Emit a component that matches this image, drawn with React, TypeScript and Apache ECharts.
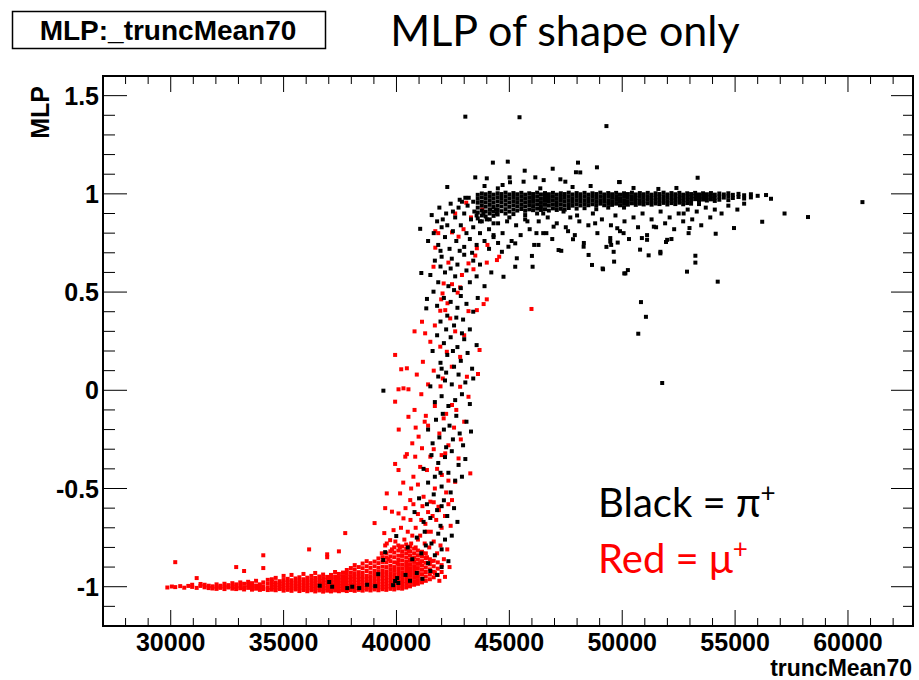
import React, { useEffect, useRef } from "react";
import * as echarts from "echarts";

// ---------- axes ----------
const xRange = [27000, 62880];
const yRange = [-1.2, 1.6];
const xMajorTicks = [30000, 35000, 40000, 45000, 50000, 55000, 60000];
const xMinorTicks = [
  28000, 29000, 31000, 32000, 33000, 34000, 36000, 37000, 38000, 39000, 41000, 42000, 43000, 44000,
  46000, 47000, 48000, 49000, 51000, 52000, 53000, 54000, 56000, 57000, 58000, 59000, 61000, 62000,
];
const yMajorTicks = [-1, -0.5, 0, 0.5, 1, 1.5];
const yMinorTicks = [
  -1.1, -0.9, -0.8, -0.7, -0.6, -0.4, -0.3, -0.2, -0.1, 0.1, 0.2, 0.3, 0.4, 0.6, 0.7, 0.8, 0.9,
  1.1, 1.2, 1.3, 1.4,
];

// ---------- Red = mu+ ----------
// dense low band, given as [truncMean70, [MLP values...]]
const muBandColumns: [number, number[]][] = [
  [29850, [-1.004]], [30050, [-0.999]], [30200, [-1.002, -0.875]], [30420, [-0.997]],
  [30600, [-1.005]], [30780, [-0.996]], [30950, [-1.001, -0.99]], [31150, [-1.006, -0.956]],
  [31320, [-0.996, -0.986]], [31500, [-1.003, -0.99]], [31680, [-1.007, -0.995]],
  [31850, [-0.998, -1.009]], [32030, [-1.002, -0.988, -1.011]], [32200, [-0.995, -1.006]],
  [32380, [-1.0, -0.985, -1.012]], [32550, [-1.004, -0.992]], [32730, [-0.998, -1.01, -0.982]],
  [32900, [-1.002, -0.988, -1.012, -0.9]], [33080, [-0.995, -1.008, -0.978]],
  [33250, [-1.003, -0.985, -1.014, -0.92]], [33430, [-0.99, -1.006, -0.975]],
  [33600, [-1.0, -1.015, -0.982]], [33780, [-0.994, -1.01, -0.97]],
  [33950, [-1.004, -0.988, -1.016]], [34100, [-0.998, -0.978, -1.012, -0.905, -0.84]],
  [34300, [-1.006, -0.985, -0.965, -1.017]],
  [34480, [-1.015, -1.002, -0.989, -0.976, -0.962]],
  [34650, [-1.018, -1.005, -0.992, -0.978, -0.955]],
  [34830, [-1.012, -0.999, -0.986, -0.972]],
  [35000, [-1.02, -1.007, -0.994, -0.98, -0.966, -0.945]],
  [35180, [-1.016, -1.003, -0.99, -0.976, -0.96]],
  [35350, [-1.021, -1.008, -0.995, -0.981, -0.967, -0.94]],
  [35530, [-1.014, -1.001, -0.988, -0.974, -0.958]],
  [35700, [-1.022, -1.009, -0.996, -0.982, -0.968, -0.952]],
  [35880, [-1.017, -1.004, -0.991, -0.977, -0.962, -0.935]],
  [36050, [-1.023, -1.01, -0.997, -0.983, -0.969, -0.954]],
  [36130, [-0.81]],
  [36230, [-1.018, -1.005, -0.992, -0.978, -0.963, -0.945]],
  [36400, [-1.024, -1.011, -0.998, -0.984, -0.97, -0.955, -0.93]],
  [36580, [-1.019, -1.006, -0.993, -0.979, -0.964, -0.948]],
  [36750, [-1.025, -1.012, -0.999, -0.985, -0.971, -0.956, -0.938]],
  [36930, [-1.02, -1.007, -0.994, -0.98, -0.965, -0.95, -0.835, -0.85]],
  [37100, [-1.024, -1.011, -0.998, -0.984, -0.97, -0.955, -0.94]],
  [37280, [-1.019, -1.006, -0.993, -0.979, -0.964, -0.948, -0.925]],
  [37450, [-1.023, -1.01, -0.997, -0.983, -0.968, -0.952, -0.935, -0.82]],
  [37630, [-1.018, -1.005, -0.992, -0.978, -0.963, -0.946, -0.928]],
  [37730, [-0.727]],
  [37800, [-1.022, -1.009, -0.996, -0.982, -0.967, -0.951, -0.934, -0.915]],
  [37980, [-1.017, -1.004, -0.991, -0.977, -0.962, -0.946, -0.928, -0.905]],
  [38150, [-1.021, -1.008, -0.995, -0.981, -0.966, -0.95, -0.932, -0.912, -0.89]],
  [38330, [-1.016, -1.003, -0.99, -0.976, -0.961, -0.945, -0.926, -0.9]],
  [38500, [-1.02, -1.007, -0.994, -0.98, -0.965, -0.949, -0.93, -0.906, -0.882]],
  [38680, [-1.015, -1.002, -0.989, -0.975, -0.96, -0.944, -0.92, -0.896, -0.87]],
  [38850, [-1.019, -1.006, -0.993, -0.979, -0.964, -0.947, -0.928, -0.904, -0.88]],
  [39030, [-1.014, -1.001, -0.988, -0.973, -0.957, -0.94, -0.92, -0.896, -0.872, -0.676]],
  [39200, [-1.018, -1.005, -0.991, -0.976, -0.96, -0.943, -0.925, -0.904, -0.88, -0.856]],
  [39380, [-1.013, -1.0, -0.986, -0.971, -0.955, -0.938, -0.92, -0.898, -0.874, -0.85]],
  [39460, [-0.727]],
  [39550, [-1.016, -1.002, -0.988, -0.973, -0.957, -0.94, -0.922, -0.9, -0.876, -0.852, -0.83]],
  [39730, [-1.011, -0.997, -0.982, -0.966, -0.95, -0.932, -0.914, -0.894, -0.87, -0.846, -0.82]],
  [39900, [-1.014, -1.0, -0.985, -0.97, -0.954, -0.936, -0.918, -0.9, -0.876, -0.85, -0.826, -0.8]],
  [40080, [-1.008, -0.992, -0.976, -0.96, -0.943, -0.925, -0.906, -0.886, -0.864, -0.842, -0.816, -0.79]],
  [40250, [-1.01, -0.994, -0.978, -0.962, -0.945, -0.927, -0.908, -0.888, -0.866, -0.843, -0.82, -0.795]],
  [40430, [-1.004, -0.986, -0.97, -0.952, -0.934, -0.915, -0.895, -0.874, -0.852, -0.83, -0.808, -0.785]],
  [40600, [-0.998, -0.98, -0.962, -0.944, -0.925, -0.905, -0.885, -0.864, -0.842, -0.82, -0.796]],
  [40780, [-0.99, -0.972, -0.954, -0.935, -0.915, -0.895, -0.874, -0.852, -0.83, -0.806]],
  [40950, [-0.985, -0.966, -0.946, -0.926, -0.905, -0.884, -0.862, -0.84, -0.816]],
  [41130, [-0.978, -0.958, -0.936, -0.914, -0.892, -0.87, -0.846, -0.822]],
  [41300, [-0.97, -0.948, -0.925, -0.902, -0.878, -0.854, -0.83]],
  [41480, [-0.962, -0.938, -0.912, -0.886, -0.86]],
  [41650, [-0.952, -0.924, -0.896, -0.868]],
  [41830, [-0.94, -0.908, -0.876]],
  [42000, [-0.925, -0.89]],
];

// rising part of the red cloud
const muRise: [number, number][] = [
  [39350, -0.83], [39500, -0.79], [39650, -0.86], [39800, -0.81], [39950, -0.77], [40050, -0.88],
  [40150, -0.8], [40250, -0.84], [40350, -0.76], [40450, -0.89], [40550, -0.82], [40650, -0.78],
  [40750, -0.86], [40850, -0.8], [40950, -0.76], [41050, -0.88], [41150, -0.83], [41250, -0.78],
  [41350, -0.85], [41450, -0.8], [41550, -0.87], [41650, -0.77], [41800, -0.83], [41950, -0.79],
  [42100, -0.86], [42250, -0.81], [41700, -0.93], [42150, -0.95], [41900, -0.97], [42350, -0.9],
  [39500, -0.6], [39570, -0.78], [39720, -0.763], [39870, -0.712], [39800, -0.618], [40090, -0.627],
  [40310, -0.652], [40200, -0.7], [40400, -0.6], [40500, -0.72], [40620, -0.66], [40750, -0.58],
  [40850, -0.7], [40950, -0.63], [41050, -0.74], [41150, -0.59], [41280, -0.68], [41400, -0.62],
  [41520, -0.72], [41650, -0.57], [41760, -0.66], [41880, -0.61], [42000, -0.7], [42150, -0.64],
  [42300, -0.58], [42400, -0.69], [41350, -0.72], [41600, -0.64], [41100, -0.66], [40700, -0.74],
  [39570, -0.525], [39940, -0.375], [40160, -0.525], [40090, -0.406], [40390, -0.338], [40460, -0.325],
  [40610, -0.559], [40750, -0.44], [40830, -0.338], [41200, -0.542], [41350, -0.406], [41500, -0.567],
  [41500, -0.338], [41860, -0.593], [42010, -0.431], [42160, -0.321], [42460, -0.559], [42600, -0.466],
  [42750, -0.347], [43270, -0.423], [40950, -0.48], [41700, -0.5], [42300, -0.46], [40300, -0.47],
  [41050, -0.39], [41800, -0.4], [42200, -0.52], [40650, -0.5],
  [40530, -0.135], [40980, -0.236], [41130, -0.295], [42090, -0.143], [40100, -0.2], [40700, -0.27],
  [41400, -0.18], [41650, -0.3], [41900, -0.22], [42300, -0.28], [42550, -0.19], [42850, -0.25],
  [41250, -0.16], [40850, -0.19], [42000, -0.33], [43000, -0.16],
  [39940, -0.058], [40090, 0.005], [40310, 0.01], [40530, 0.005], [42460, -0.075], [42820, 0.018],
  [43190, -0.033], [40800, -0.1], [41100, -0.02], [41400, 0.03], [41700, -0.08], [41950, 0.02],
  [42200, -0.12], [41300, -0.13], [42650, -0.1],
  [39940, 0.18], [40460, 0.112], [40210, 0.107], [41170, 0.145], [41500, 0.247], [41940, 0.222],
  [42230, 0.196], [42820, 0.17], [43680, 0.205], [43610, 0.083], [43120, 0.069], [40900, 0.08],
  [41650, 0.1], [42450, 0.12], [42050, 0.06],
  [41130, 0.349], [41270, 0.29], [42710, 0.497], [41940, 0.405], [42160, 0.408], [42380, 0.366],
  [43190, 0.403], [43560, 0.408], [43860, 0.439], [44000, 0.463], [41980, 0.463], [42260, 0.443],
  [40800, 0.3], [41700, 0.33], [42600, 0.3], [43000, 0.28],
  [41640, 0.629], [42090, 0.544], [42040, 0.493], [42820, 0.524], [42460, 0.54], [42900, 0.587],
  [43410, 0.616], [43190, 0.646], [44000, 0.65], [44550, 0.68], [43490, 0.686], [42300, 0.65],
  [41720, 0.81], [41850, 0.8], [42460, 0.804], [41720, 0.726], [43090, 0.955], [42970, 0.82],
  [42750, 0.782], [44030, 0.74], [43560, 0.723], [44450, 0.663], [42600, 0.9], [43300, 0.88],
  [43800, 0.92], [45980, 0.414],
];

// ---------- Black = pi+ ----------
const piBandColumns: [number, number[]][] = [
  [43600, [0.995, 0.975, 0.955, 0.93, 0.905, 0.875]],
  [43780, [1.002, 0.982, 0.96, 0.94, 0.915, 0.89, 0.86]],
  [43950, [0.998, 0.978, 0.957, 0.935, 0.91, 0.885]],
  [44130, [1.005, 0.985, 0.965, 0.944, 0.92, 0.9, 0.87]],
  [44300, [0.996, 0.976, 0.955, 0.933, 0.91, 0.888]],
  [44480, [1.003, 0.983, 0.962, 0.94, 0.918, 0.895]],
  [44650, [0.999, 0.979, 0.958, 0.936, 0.912]],
  [44830, [1.006, 0.986, 0.966, 0.945, 0.922, 0.9]],
  [45000, [0.997, 0.977, 0.956, 0.934, 0.91]],
  [45180, [1.004, 0.984, 0.963, 0.942, 0.92, 0.897]],
  [45350, [0.998, 0.978, 0.958, 0.937, 0.915]],
  [45530, [1.005, 0.985, 0.965, 0.944, 0.923]],
  [45700, [0.996, 0.977, 0.957, 0.936, 0.914, 0.892]],
  [45880, [1.003, 0.983, 0.963, 0.943, 0.921]],
  [46050, [0.999, 0.979, 0.959, 0.938, 0.917]],
  [46230, [1.006, 0.986, 0.966, 0.946, 0.925, 0.9]],
  [46400, [0.997, 0.977, 0.958, 0.938, 0.918]],
  [46580, [1.004, 0.984, 0.964, 0.944, 0.922]],
  [46750, [0.998, 0.979, 0.96, 0.94, 0.915]],
  [46930, [1.005, 0.985, 0.966, 0.946, 0.926]],
  [47100, [0.996, 0.977, 0.958, 0.939, 0.918]],
  [47280, [1.003, 0.984, 0.965, 0.945, 0.924]],
  [47450, [0.999, 0.98, 0.961, 0.941, 0.92]],
  [47630, [1.006, 0.987, 0.968, 0.948, 0.928]],
  [47800, [0.997, 0.978, 0.959, 0.94]],
  [47980, [1.004, 0.985, 0.966, 0.947, 0.925]],
  [48150, [0.998, 0.979, 0.96, 0.941]],
  [48330, [1.005, 0.986, 0.967, 0.948, 0.927]],
  [48500, [0.996, 0.978, 0.96, 0.942]],
  [48680, [1.003, 0.985, 0.966, 0.947]],
  [48850, [0.999, 0.98, 0.962, 0.943, 0.922]],
  [49030, [1.006, 0.987, 0.968, 0.95]],
  [49200, [0.997, 0.979, 0.961, 0.942]],
  [49380, [1.004, 0.986, 0.967, 0.949, 0.93]],
  [49550, [0.998, 0.98, 0.962, 0.944]],
  [49730, [1.005, 0.987, 0.969, 0.95]],
  [49900, [0.996, 0.978, 0.96, 0.942]],
  [50080, [1.003, 0.985, 0.967, 0.949, 0.93]],
  [50250, [0.999, 0.981, 0.963, 0.945]],
  [50430, [1.006, 0.988, 0.97, 0.952]],
  [50600, [0.997, 0.979, 0.962, 0.944]],
  [50780, [1.004, 0.986, 0.968, 0.95]],
  [50950, [0.998, 0.98, 0.963, 0.946]],
  [51130, [1.005, 0.987, 0.97, 0.952]],
  [51300, [0.996, 0.979, 0.962, 0.945]],
  [51480, [1.003, 0.986, 0.969, 0.951]],
  [51650, [0.999, 0.982, 0.965, 0.948]],
  [51830, [1.006, 0.988, 0.971, 0.954]],
  [52000, [0.997, 0.98, 0.963, 0.946]],
  [52180, [1.004, 0.987, 0.97, 0.953]],
  [52350, [0.998, 0.981, 0.965, 0.948]],
  [52530, [1.005, 0.988, 0.972, 0.955]],
  [52700, [0.996, 0.98, 0.964, 0.947]],
  [52880, [1.003, 0.987, 0.97, 0.953]],
  [53050, [0.999, 0.983, 0.967, 0.95]],
  [53230, [1.005, 0.989, 0.973]],
  [53400, [0.997, 0.981, 0.965, 0.948]],
  [53580, [1.003, 0.987, 0.971]],
  [53750, [0.998, 0.982, 0.966]],
  [53930, [1.004, 0.988, 0.972]],
  [54100, [0.996, 0.98, 0.964]],
  [54300, [1.002, 0.986, 0.97]],
  [54500, [0.997, 0.981]],
  [54700, [1.003, 0.987, 0.968]],
  [54900, [0.995, 0.979]],
  [55150, [1.0, 0.984]],
  [55400, [0.993, 0.976]],
  [55700, [0.998, 0.982]],
  [56000, [0.99]],
];

const piScatter: [number, number][] = [
  // below the plateau
  [44100, 0.82], [44300, 0.78], [44500, 0.85], [44700, 0.8], [44900, 0.86], [45100, 0.76], [45300, 0.84],
  [45500, 0.79], [45700, 0.87], [45900, 0.82], [46100, 0.74], [46300, 0.86], [46500, 0.8], [46700, 0.88],
  [46900, 0.77], [47100, 0.85], [47300, 0.71], [47500, 0.83], [47700, 0.88], [47900, 0.79], [48100, 0.86],
  [48300, 0.75], [48500, 0.84], [48700, 0.9], [48900, 0.8], [49100, 0.87], [49300, 0.73], [49500, 0.84],
  [49700, 0.89], [49900, 0.81], [50100, 0.86], [50300, 0.77], [50500, 0.88], [50700, 0.83], [50900, 0.9],
  [51100, 0.79], [51300, 0.87], [51500, 0.83], [51700, 0.91], [51900, 0.85], [52100, 0.88], [52300, 0.82],
  [52500, 0.9], [52700, 0.86], [52900, 0.92], [53100, 0.87], [53300, 0.91], [53500, 0.84], [53700, 0.93],
  [53900, 0.88], [54100, 0.92], [54400, 0.9], [54700, 0.94], [55100, 0.92], [55400, 0.95],
  [49470, 0.775], [49510, 0.74], [49800, 0.752], [49130, 0.62], [49640, 0.655], [50250, 0.612],
  [50090, 0.595], [50870, 0.775], [50790, 0.716], [51170, 0.687], [51690, 0.705], [52180, 0.77],
  [51940, 0.755], [52940, 0.8], [52980, 0.826], [52870, 0.604], [53240, 0.685], [53240, 0.65],
  [54140, 0.797], [54230, 0.553], [54950, 0.826], [56200, 0.858], [57190, 0.9], [58230, 0.882],
  [60640, 0.958], [56370, 0.994], [56590, 0.975], [50830, 0.449], [51050, 0.374], [50710, 0.288],
  [51770, 0.037],
  [47180, 0.714], [48290, 0.731], [48510, 0.689], [49150, 0.616], [48660, 0.638], [47820, 0.769],
  [46000, 0.684], [46030, 0.629], [46290, 0.74], [46640, 0.8], [46960, 0.833], [44670, 0.705],
  [44960, 0.731], [45260, 0.748], [45260, 0.629], [44740, 0.578], [45330, 0.672], [49620, 0.705],
  [50140, 0.595], [49470, 0.757], [50060, 0.8], [51100, 0.766], [51400, 0.833], [51990, 0.766],
  [51690, 0.697], [52720, 0.9], [49780, 0.825], [45800, 0.86], [46500, 0.9], [47400, 0.91],
  [48000, 0.89], [44400, 0.92], [45000, 0.88], [47600, 0.81], [48800, 0.85], [46200, 0.8],
  // above the plateau
  [44270, 1.159], [44930, 1.164], [48040, 1.159], [45680, 1.118], [46920, 1.128], [48880, 1.135],
  [47950, 1.11], [48140, 1.109], [43490, 1.084], [44000, 1.079], [45010, 1.084], [45030, 1.059],
  [49860, 1.06], [42250, 1.035], [44490, 1.028], [45630, 1.062], [46150, 1.084], [46520, 1.07],
  [47260, 1.074], [47480, 1.062], [46370, 1.028], [53340, 1.082], [49890, 1.06], [50500, 1.03],
  [51600, 1.025], [52400, 1.03], [47800, 1.035], [48600, 1.04], [43900, 1.04], [44700, 1.045],
  [43050, 1.393], [45450, 1.39], [49300, 1.345],
];

const piRise: [number, number][] = [
  [41560, 0.892], [41900, 0.93], [42200, 0.9], [42400, 0.95], [42600, 0.88], [42750, 0.93], [42900, 0.96],
  [43000, 0.9], [43150, 0.94], [43300, 0.87], [43400, 0.96], [43450, 0.91], [43550, 0.89], [43700, 0.86],
  [43850, 0.9], [44000, 0.87], [44150, 0.92], [44300, 0.85], [44450, 0.9], [42050, 0.87], [42500, 0.91],
  [43200, 0.98], [43050, 0.98], [42800, 0.97], [41800, 0.86],
  [41050, 0.822], [41400, 0.76], [41650, 0.8], [41850, 0.74], [42000, 0.83], [42150, 0.78], [42350, 0.72],
  [42500, 0.81], [42650, 0.76], [42850, 0.84], [43000, 0.73], [43100, 0.8], [43250, 0.77], [43400, 0.83],
  [43550, 0.74], [43700, 0.8], [43900, 0.76], [44100, 0.72], [44300, 0.79], [44500, 0.75], [42250, 0.84],
  [42800, 0.71], [43350, 0.7], [41950, 0.71],
  [41100, 0.597], [41500, 0.587], [41700, 0.66], [41850, 0.55], [42000, 0.68], [42150, 0.6], [42300, 0.53],
  [42450, 0.67], [42600, 0.58], [42700, 0.64], [42850, 0.52], [43000, 0.69], [43100, 0.61], [43250, 0.55],
  [43400, 0.66], [43550, 0.58], [43700, 0.64], [43900, 0.53], [44200, 0.6], [42550, 0.51], [42400, 0.62],
  [41950, 0.63],
  [41640, 0.502], [41350, 0.465], [41320, 0.417], [41800, 0.43], [41950, 0.35], [42100, 0.47], [42250, 0.38],
  [42400, 0.45], [42550, 0.33], [42700, 0.42], [42850, 0.48], [42950, 0.36], [43100, 0.44], [43250, 0.31],
  [43400, 0.4], [43600, 0.47], [42200, 0.31], [42650, 0.37],
  [41600, 0.2], [41800, 0.28], [41950, 0.14], [42100, 0.24], [42250, 0.18], [42400, 0.27], [42550, 0.12],
  [42700, 0.22], [42850, 0.15], [43000, 0.26], [43150, 0.19], [43350, 0.11], [43550, 0.23], [42000, 0.11],
  [42500, 0.2], [42900, 0.29],
  [39420, -0.002], [41500, 0.02], [41700, -0.06], [41850, 0.07], [42000, -0.03], [42150, 0.05], [42300, -0.08],
  [42450, 0.03], [42600, -0.05], [42750, 0.08], [42900, -0.02], [43050, 0.04], [43250, -0.07], [43400, 0.06],
  [42200, 0.09],
  [41400, -0.2], [41600, -0.27], [41750, -0.15], [41900, -0.24], [42050, -0.12], [42200, -0.29], [42350, -0.18],
  [42500, -0.25], [42650, -0.13], [42800, -0.22], [42950, -0.28], [43100, -0.16], [43300, -0.21], [42100, -0.2],
  [41200, -0.4], [41400, -0.47], [41550, -0.33], [41700, -0.44], [41850, -0.37], [42000, -0.49], [42150, -0.34],
  [42300, -0.42], [42450, -0.31], [42600, -0.46], [42750, -0.38], [42900, -0.44], [43050, -0.35], [41950, -0.42],
  [40800, -0.62], [41000, -0.55], [41200, -0.67], [41350, -0.58], [41500, -0.65], [41650, -0.53], [41800, -0.61],
  [41950, -0.69], [42100, -0.56], [42250, -0.64], [42400, -0.52], [42550, -0.6], [42700, -0.67], [42000, -0.59],
  [39500, -0.824], [39990, -0.742], [40500, -0.8], [40700, -0.86], [40900, -0.75], [41100, -0.83], [41250, -0.72],
  [41400, -0.88], [41550, -0.78], [41700, -0.84], [41850, -0.73], [42000, -0.81], [42150, -0.76], [42300, -0.87],
  [42450, -0.74], [41300, -0.79],
  [37020, -0.976], [37150, -1.0], [37820, -1.007], [38040, -1.0], [38350, -1.007], [39060, -0.997],
  [39190, -0.936], [39410, -0.864], [40030, -0.956], [40080, -0.981], [39850, -0.992], [39940, -0.971],
  [40400, -0.94], [40600, -0.97], [40900, -0.93], [41150, -0.96], [41500, -0.92], [41800, -0.94],
  [42000, -0.9], [38700, -0.99], [36600, -0.995],
];

const piColor = "#000000";
const muColor = "#ff0000";

function flattenColumns(cols: [number, number[]][]): [number, number][] {
  const out: [number, number][] = [];
  cols.forEach(([x, ys]) => ys.forEach((y) => out.push([x, y])));
  return out;
}

const boldFont = "'Liberation Sans', Arial, Helvetica, sans-serif";
const slideFont = "Lato, 'Open Sans', sans-serif";

const gridBox = { left: 103, top: 76, width: 810, height: 550 };

export default function App() {
  const ref = useRef<HTMLDivElement>(null);
  const tickRef = useRef<HTMLDivElement>(null);

  useEffect(() => {
    if (!ref.current || !tickRef.current) return;
    const chart = echarts.init(ref.current, undefined, { renderer: "svg" });
    const tickChart = echarts.init(tickRef.current, undefined, { renderer: "svg" });

    const labelStyle = { fontFamily: boldFont, fontWeight: "bold" as const, color: "#000" };

    const option: any = {
      animation: false,
      grid: {
        ...gridBox,
        show: true, borderColor: "#000", borderWidth: 2, backgroundColor: "rgba(0,0,0,0)",
      },
      xAxis: {
        type: "value", position: "bottom", min: xRange[0], max: xRange[1],
        axisLine: { show: false, onZero: false }, splitLine: { show: false },
        axisTick: { show: false },
        axisLabel: { show: true, customValues: xMajorTicks, margin: 3, fontSize: 25, ...labelStyle,
          formatter: (v: number) => String(v) },
      },
      yAxis: {
        type: "value", position: "left", min: yRange[0], max: yRange[1],
        axisLine: { show: false, onZero: false }, splitLine: { show: false },
        axisTick: { show: false },
        axisLabel: { show: true, customValues: yMajorTicks, margin: 4, fontSize: 25, ...labelStyle,
          formatter: (v: number) => String(v) },
      },
      series: [
        {
          name: "mu+", type: "scatter",
          symbol: "rect", symbolSize: 4, itemStyle: { color: muColor, opacity: 1 },
          data: [...flattenColumns(muBandColumns), ...muRise],
          silent: true,
        },
        {
          name: "pi+", type: "scatter",
          symbol: "rect", symbolSize: 4, itemStyle: { color: piColor, opacity: 1 },
          data: [...flattenColumns(piBandColumns), ...piScatter, ...piRise],
          silent: true,
        },
      ],
      graphic: [
        {
          type: "rect", shape: { x: 12.5, y: 11.5, width: 313, height: 37 },
          style: { fill: "#fff", stroke: "#000", lineWidth: 1.5 },
        },
        {
          type: "text", x: 168, y: 30,
          style: { text: "MLP:_truncMean70", fontSize: 28, fontWeight: "bold", fontFamily: boldFont,
            fill: "#000", align: "center", verticalAlign: "middle", textAlign: "center", textVerticalAlign: "middle" },
        },
        {
          type: "text", x: 565, y: 29,
          style: { text: "MLP of shape only", fontSize: 43, fontFamily: slideFont, fill: "#000",
            align: "center", verticalAlign: "middle", textAlign: "center", textVerticalAlign: "middle" },
        },
        {
          type: "text", x: 912, y: 668,
          style: { text: "truncMean70", fontSize: 23, fontWeight: "bold", fontFamily: boldFont, fill: "#000",
            align: "right", verticalAlign: "middle", textAlign: "right", textVerticalAlign: "middle" },
        },
        {
          type: "text", x: 40, y: 86, rotation: Math.PI / 2,
          style: { text: "MLP", fontSize: 25, fontWeight: "bold", fontFamily: boldFont, fill: "#000",
            align: "right", verticalAlign: "middle", textAlign: "right", textVerticalAlign: "middle" },
        },
        {
          type: "text", x: 598, y: 502,
          style: {
            text: "{a|Black = π}{s|+}", align: "left", verticalAlign: "middle",
            textAlign: "left", textVerticalAlign: "middle",
            rich: {
              a: { fontSize: 40, fontFamily: slideFont, fill: "#000", lineHeight: 46 },
              s: { fontSize: 26, fontFamily: slideFont, fill: "#000", lineHeight: 26, verticalAlign: "top" },
            },
          },
        },
        {
          type: "text", x: 598, y: 558,
          style: {
            text: "{a|Red = μ}{s|+}", align: "left", verticalAlign: "middle",
            textAlign: "left", textVerticalAlign: "middle",
            rich: {
              a: { fontSize: 40, fontFamily: slideFont, fill: "#ff0000", lineHeight: 46 },
              s: { fontSize: 26, fontFamily: slideFont, fill: "#ff0000", lineHeight: 26, verticalAlign: "top" },
            },
          },
        },
      ],
    };
    chart.setOption(option);

    // overlay chart with the same grid and scales, carrying only the frame ticks on all four sides
    tickChart.setOption({
      animation: false,
      grid: { ...gridBox, show: false },
      xAxis: { type: "value", min: xRange[0], max: xRange[1], show: false },
      yAxis: { type: "value", min: yRange[0], max: yRange[1], show: false },
      series: [],
    });
    const px = (x: number, y: number) => tickChart.convertToPixel({ gridIndex: 0 }, [x, y]) as number[];
    const lines: any[] = [];
    const addLine = (x1: number, y1: number, x2: number, y2: number) => {
      lines.push({ type: "line", z: 10, shape: { x1, y1, x2, y2 }, style: { stroke: "#000", lineWidth: 1 } });
    };
    const xTick = (v: number, len: number) => {
      const b = px(v, yRange[0]);
      const t = px(v, yRange[1]);
      addLine(b[0], b[1], b[0], b[1] - len);
      addLine(t[0], t[1], t[0], t[1] + len);
    };
    const yTick = (v: number, lenL: number, lenR: number) => {
      const l = px(xRange[0], v);
      const r = px(xRange[1], v);
      addLine(l[0], l[1], l[0] + lenL, l[1]);
      addLine(r[0], r[1], r[0] - lenR, r[1]);
    };
    xMajorTicks.forEach((v) => xTick(v, 16));
    xMinorTicks.forEach((v) => xTick(v, 8));
    yMajorTicks.forEach((v) => yTick(v, 24, 22));
    yMinorTicks.forEach((v) => yTick(v, 12, 10));
    tickChart.setOption({ graphic: lines });

    return () => {
      tickChart.dispose();
      chart.dispose();
    };
  }, []);

  return (
    <>
      <div
        ref={ref}
        style={{ position: "fixed", left: 0, top: 0, width: 919, height: 680, background: "#fff" }}
      />
      <div
        ref={tickRef}
        style={{ position: "fixed", left: 0, top: 0, width: 919, height: 680, pointerEvents: "none" }}
      />
    </>
  );
}
